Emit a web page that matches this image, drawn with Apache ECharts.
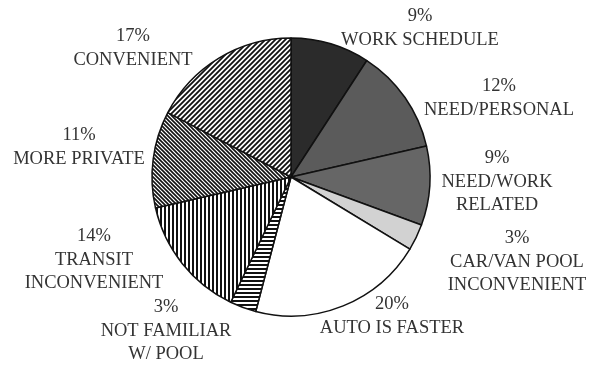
<!DOCTYPE html>
<html>
<head>
<meta charset="utf-8">
<script src="https://cdn.jsdelivr.net/npm/echarts@6/dist/echarts.min.js"></script>
<style>
  html, body { margin: 0; padding: 0; background: #fff; }
  #chart { width: 591px; height: 367px; }
</style>
</head>
<body>
<div id="chart"></div>
<script>
// Reasons given for driving alone (share of responses, %)
const categories = [
  'WORK SCHEDULE',
  'NEED/PERSONAL',
  'NEED/WORK\nRELATED',
  'CAR/VAN POOL\nINCONVENIENT',
  'AUTO IS FASTER',
  'NOT FAMILIAR\nW/ POOL',
  'TRANSIT\nINCONVENIENT',
  'MORE PRIVATE',
  'CONVENIENT'
];
const shares = [9, 12, 9, 3, 20, 3, 14, 11, 17];

// Label block centres, as offsets from the pie centre (px)
const labelOffsets = [
  [129, -149], [208, -79], [206, 5], [226, 85], [101, 139],
  [-125, 154], [-197, 83], [-212, -30], [-158, -129]
];

// Fill patterns -----------------------------------------------------------
function tile(size, draw) {
  const c = document.createElement('canvas');
  c.width = size; c.height = size;
  const g = c.getContext('2d');
  draw(g, size);
  return { image: c, repeat: 'repeat' };
}
function solid(color) { return color; }
function stripes(kind, size, width) {
  return tile(size, (g, s) => {
    g.fillStyle = '#fff';
    g.fillRect(0, 0, s, s);
    g.strokeStyle = '#111';
    g.fillStyle = '#111';
    g.lineWidth = width;
    if (kind === 'v') { g.fillRect(0, 0, width, s); return; }
    if (kind === 'h') { g.fillRect(0, 0, s, width); return; }
    g.beginPath();
    if (kind === 'up') {          // lines rising to the right
      g.moveTo(-1, s + 1); g.lineTo(s + 1, -1);
      g.moveTo(-1, 1); g.lineTo(1, -1);
      g.moveTo(s - 1, s + 1); g.lineTo(s + 1, s - 1);
    } else {                      // lines falling to the right
      g.moveTo(-1, -1); g.lineTo(s + 1, s + 1);
      g.moveTo(s - 1, -1); g.lineTo(s + 1, 1);
      g.moveTo(-1, s - 1); g.lineTo(1, s + 1);
    }
    g.stroke();
  });
}

const fills = [
  solid('#2b2b2b'),
  solid('#5b5b5b'),
  solid('#666666'),
  solid('#d2d2d2'),
  solid('#ffffff'),
  stripes('h', 4, 2),
  stripes('v', 4, 2),
  stripes('down', 4, 1.6),
  stripes('up', 5, 1.8)
];

const CX = 291, CY = 177, R = 139;

const chart = echarts.init(document.getElementById('chart'), null, { renderer: 'canvas' });
chart.setOption({
  animation: false,
  backgroundColor: '#fff',
  series: [{
    type: 'pie',
    center: [CX, CY],
    radius: R,
    startAngle: 90,
    clockwise: true,
    silent: true,
    avoidLabelOverlap: false,
    data: categories.map((name, i) => ({
      name: name,
      value: shares[i],
      itemStyle: { color: fills[i] }
    })),
    itemStyle: { borderColor: '#111', borderWidth: 1.5 },
    label: {
      show: true,
      position: 'outside',
      formatter: p => p.value + '%\n' + p.name,
      fontFamily: '"Liberation Serif", "DejaVu Serif", serif',
      fontSize: 18.5,
      lineHeight: 23.5,
      color: '#333',
      align: 'center',
      overflow: 'none',
      width: 220
    },
    labelLine: { show: false },
    labelLayout: p => ({
      x: CX + labelOffsets[p.dataIndex][0],
      y: CY + labelOffsets[p.dataIndex][1],
      align: 'center',
      verticalAlign: 'middle'
    })
  }]
});
</script>
</body>
</html>
